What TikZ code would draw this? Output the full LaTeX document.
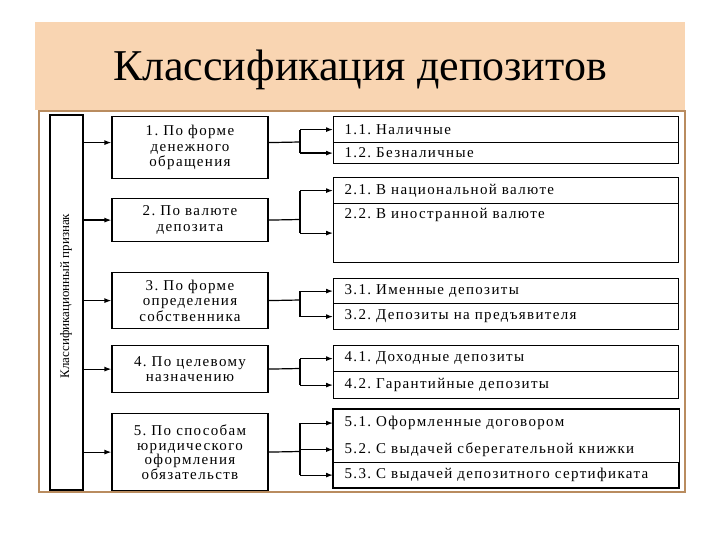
\documentclass[tikz,border=0pt]{standalone}
\usepackage{fontspec}
\setmainfont{Liberation Serif}
\newfontfamily\spaced[LetterSpace=9]{Liberation Serif}
\usetikzlibrary{arrows.meta}
\definecolor{peach}{RGB}{249,213,178}
\definecolor{frame}{RGB}{185,140,95}
\tikzset{
  lbox/.style={draw,line width=1.2pt,minimum width=156pt,align=center,inner sep=2pt,
    font=\spaced\fontsize{15}{15.5}\selectfont\frenchspacing},
  rrow/.style={draw,line width=1.2pt,minimum width=345pt,anchor=north west,text width=323pt,
    align=left,inner xsep=11pt,inner ysep=0pt,font=\spaced\fontsize{15}{16}\selectfont\frenchspacing},
  arr/.style={line width=1.2pt,-{Latex[length=7pt,width=5pt]}},
  ln/.style={line width=1.2pt}
}
\begin{document}
\begin{tikzpicture}[x=1pt,y=-1pt]
\useasboundingbox (0,0) rectangle (720,540);
\fill[white] (0,0) rectangle (720,540);
% title band
\fill[peach] (35,22) rectangle (685,110);
\node[font=\fontsize{44}{48}\selectfont] (title) at (360,70) {Классификация депозитов};
% frame
\draw[frame,line width=2.5pt] (39,111) rectangle (685,492);
% left vertical box
\node[draw,line width=1.2pt,minimum width=33pt,minimum height=375pt,inner sep=0pt] (L) at (66.5,302.5) {};
\node[rotate=90,font=\fontsize{13}{15}\selectfont] (Lt) at (66,296) {Классификационный признак};
% left boxes
\node[lbox,minimum height=62pt,anchor=north] (A1) at (190,116) {1. По форме\\денежного\\обращения};
\node[lbox,minimum height=43pt,anchor=north] (A2) at (190,198) {2. По валюте\\депозита};
\node[lbox,minimum height=56pt,anchor=north] (A3) at (190,272) {3. По форме\\определения\\собственника};
\node[lbox,minimum height=47pt,anchor=north] (A4) at (190,345) {4. По целевому\\назначению};
\node[lbox,minimum height=77pt,anchor=north,font=\spaced\fontsize{15}{14.5}\selectfont\frenchspacing] (A5) at (190,413) {5. По способам\\юридического\\оформления\\обязательств};
% arrows from L
\coordinate (A1w) at ([yshift=5pt]A1.west);
\coordinate (A1e) at ([yshift=5pt]A1.east);
\draw[arr] (L.east |- A1w) -- (A1w);
\foreach \i in {2,...,5}{\draw[arr] (L.east |- A\i.west) -- (A\i.west);}
% right rows
\node[rrow,minimum height=26pt] (R11) at (333,116) {1.1. Наличные};
\node[rrow,minimum height=21pt] (R12) at (333,142) {1.2. Безналичные};
\node[rrow,minimum height=26pt] (R21) at (333,177) {2.1. В национальной валюте};
\node[rrow,minimum height=59pt,text height=10pt,text depth=40pt] (R22) at (333,203) {2.2. В иностранной валюте};
\node[rrow,minimum height=25pt] (R31) at (333,278) {3.1. Именные депозиты};
\node[rrow,minimum height=26pt] (R32) at (333,303) {3.2. Депозиты на предъявителя};
\node[rrow,minimum height=26pt] (R41) at (333,345) {4.1. Доходные депозиты};
\node[rrow,minimum height=27pt] (R42) at (333,371) {4.2. Гарантийные депозиты};
\node[rrow,draw=none,minimum height=27pt] (R51) at (333,409) {5.1. Оформленные договором};
\node[rrow,draw=none,minimum height=26pt] (R52) at (333,436) {5.2. С выдачей сберегательной книжки};
\node[rrow,minimum height=25pt] (R53) at (333,462) {5.3. С выдачей депозитного сертификата};
\draw[ln] (R51.north west) rectangle (R53.south east);
% brackets
\coordinate (B1) at (300,142);
\coordinate (B2) at (300,219.5);
\coordinate (B3) at (300,300);
\coordinate (B4) at (300,368.5);
\coordinate (B5) at (300,451.5);
\draw[ln] (A1e) -- (B1);
\draw[ln] (B1 |- R11.west) -- (B1 |- R12.west);
\draw[arr] (B1 |- R11.west) -- (R11.west);
\draw[arr] (B1 |- R12.west) -- (R12.west);
\draw[ln] (A2.east) -- (B2);
\draw[ln] (B2 |- R21.west) -- (B2 |- R22.west);
\draw[arr] (B2 |- R21.west) -- (R21.west);
\draw[arr] (B2 |- R22.west) -- (R22.west);
\draw[ln] (A3.east) -- (B3);
\draw[ln] (B3 |- R31.west) -- (B3 |- R32.west);
\draw[arr] (B3 |- R31.west) -- (R31.west);
\draw[arr] (B3 |- R32.west) -- (R32.west);
\draw[ln] (A4.east) -- (B4);
\draw[ln] (B4 |- R41.west) -- (B4 |- R42.west);
\draw[arr] (B4 |- R41.west) -- (R41.west);
\draw[arr] (B4 |- R42.west) -- (R42.west);
\draw[ln] (A5.east) -- (B5);
\draw[ln] (B5 |- R51.west) -- (B5 |- R53.west);
\draw[arr] (B5 |- R51.west) -- (R51.west);
\draw[arr] (B5 |- R52.west) -- (R52.west);
\draw[arr] (B5 |- R53.west) -- (R53.west);
\end{tikzpicture}
\end{document}
